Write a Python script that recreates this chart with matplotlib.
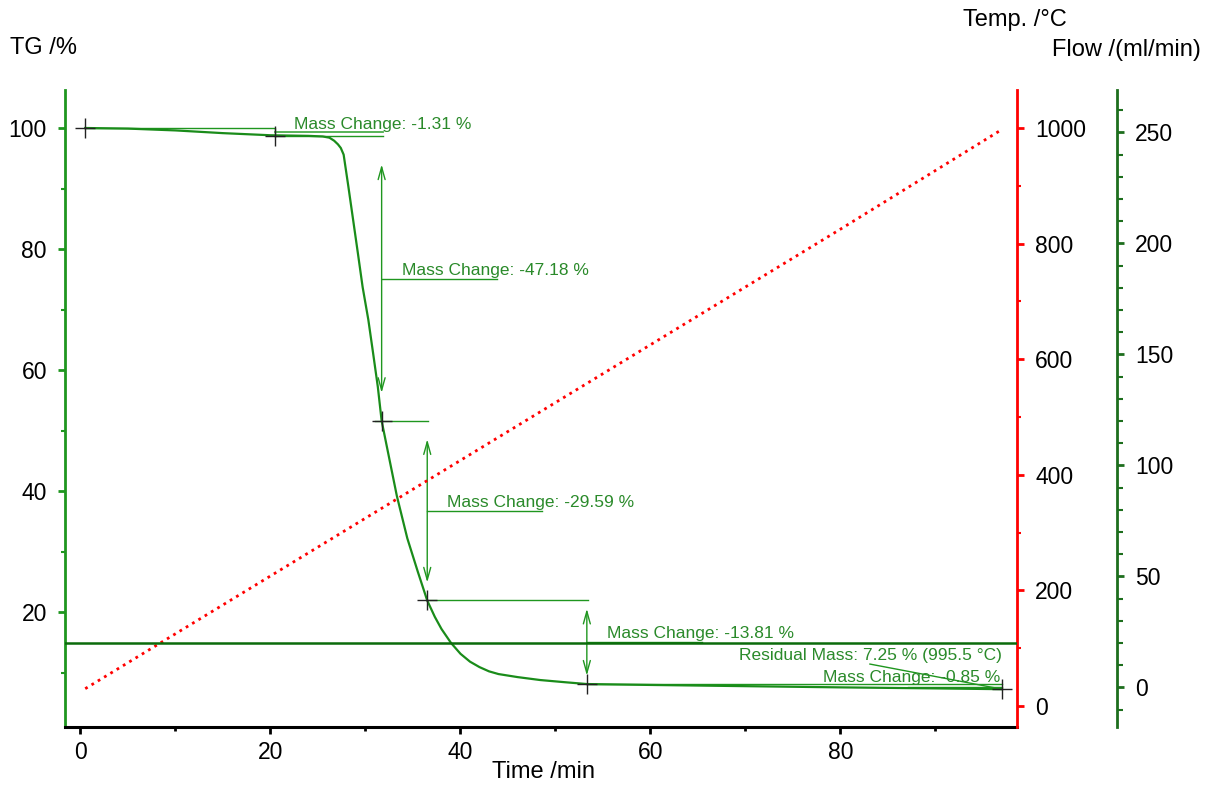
import matplotlib
matplotlib.use('Agg')
import matplotlib.pyplot as plt
from matplotlib.ticker import MultipleLocator

plt.rcParams['font.family'] = ['Liberation Sans', 'DejaVu Sans']

# TG curve, time in min and mass in %
tg_time = [0.5, 5, 10, 15, 20, 24, 25.5, 26.2, 26.7, 27.1, 27.4, 27.7, 28.2, 28.7, 29.2,
           29.7, 30.3, 30.8, 31.3, 31.7, 32.5, 33.3, 34.4, 35.5, 36.5, 37.3, 38, 39, 40,
           41, 42, 43, 44, 46, 48.4, 51, 53.3, 60, 70, 80, 90, 97]
tg_mass = [100, 99.9, 99.6, 99.15, 98.8, 98.7, 98.6, 98.4, 97.9, 97.3, 96.7, 95.6, 90.3,
           84.8, 79.3, 73.7, 68.3, 62.8, 57.2, 51.6, 45.4, 39.2, 32.2, 26.7, 21.9, 19.2,
           17.2, 14.9, 13.1, 11.8, 10.9, 10.2, 9.75, 9.25, 8.76, 8.4, 8.1, 7.95, 7.75,
           7.55, 7.38, 7.25]

# temperature programme (red dotted)
temp_time = [0.5, 20, 40, 60, 80, 96.8]
temp_value = [30, 225, 425, 625, 825, 995.5]

# purge gas flow
flow_value = 20

# evaluation points of the mass steps
step_time = [0.5, 20.5, 31.7, 36.5, 53.3, 97.0]
step_mass = [100.0, 98.69, 51.51, 21.92, 8.11, 7.26]
mass_change = [-1.31, -47.18, -29.59, -13.81, -0.85]
residual_mass = 7.25
residual_temp = 995.5

green = '#1f961f'
txt_green = '#2a8a2a'
ann_lw = 1.0

fig = plt.figure(figsize=(12.09, 7.85), dpi=100)
ax = fig.add_axes([65 / 1209, 1 - 727 / 785, 952 / 1209, 637 / 785])
ax2 = ax.twinx()
ax3 = ax.twinx()

# --- TG curve
ax.plot(tg_time, tg_mass, color='#1a8c1a', lw=1.6, zorder=3)
ax.plot(step_time, step_mass, ls='none', marker='+', ms=14, mew=1.0, color='#222222', zorder=4)

# first small step: box plus leader
ax.plot([step_time[0], step_time[1], step_time[1]], [step_mass[0], step_mass[0], step_mass[1]],
        color=green, lw=ann_lw)
mid0 = (step_mass[0] + step_mass[1]) / 2
ax.plot([step_time[1], step_time[2] + 0.1], [mid0, mid0], color='#4aae4a', lw=1.3)
ax.text(22.5, step_mass[0] - 0.1, 'Mass Change: %.2f %%' % mass_change[0], color=txt_green,
        fontsize=12.5, va='baseline', ha='left')

# big steps with double arrows
for i in [1, 2, 3]:
    a = step_mass[i]
    b = step_mass[i + 1]
    xe = step_time[i + 1]
    xs = step_time[i]
    if i == 2:
        xs = step_time[i] - 0.7
    ax.plot([xs, xe + 0.1], [a, a], color=green, lw=ann_lw)
    span = a - b
    ax.annotate('', xy=(xe, a - 0.1 * span), xytext=(xe, b + 0.1 * span),
                arrowprops=dict(arrowstyle='<->,head_length=0.9,head_width=0.25',
                                color=green, lw=ann_lw, shrinkA=0, shrinkB=0))
    mid = (a + b) / 2
    ax.plot([xe, xe + 12.1], [mid, mid], color=green, lw=ann_lw)
    ax.text(xe + 2.1, mid + 0.65, 'Mass Change: %.2f %%' % mass_change[i], color=txt_green,
            fontsize=12.5, va='baseline', ha='left')

# last small step
ax.plot([step_time[4], step_time[5]], [step_mass[4], step_mass[4]], color=green, lw=ann_lw)
mid4 = (step_mass[4] + step_mass[5]) / 2
ax.plot([87.1, step_time[5]], [mid4, mid4], color=green, lw=ann_lw)
ax.text(96.8, mid4 + 0.7, 'Mass Change: %.2f %%' % mass_change[4], color=txt_green,
        fontsize=12.5, va='baseline', ha='right')

# residual mass
ax.plot([83.1, step_time[5]], [11.4, residual_mass], color=green, lw=ann_lw)
ax.text(97.0, 12.07, 'Residual Mass: %.2f %% (%.1f °C)' % (residual_mass, residual_temp),
        color=txt_green, fontsize=12.5, va='baseline', ha='right')

# --- temperature
ax2.plot(temp_time, temp_value, color='red', ls=':', lw=2.0)

# --- flow
ax3.axhline(flow_value, color='#0b6b0b', lw=1.8)

# axis ranges
ax.set_xlim(-1.63, 98.58)
ax.set_ylim(1.0, 106.28)
ax2.set_ylim(-36.3, 1065.7)
ax3.set_ylim(-17.8, 269.1)

# spines
for s in ['top', 'right']:
    ax.spines[s].set_visible(False)
ax.spines['left'].set_color(green)
ax.spines['left'].set_linewidth(2)
ax.spines['bottom'].set_color('black')
ax.spines['bottom'].set_linewidth(2.2)

for s in ['top', 'left', 'bottom']:
    ax2.spines[s].set_visible(False)
    ax3.spines[s].set_visible(False)
ax2.spines['right'].set_color('red')
ax2.spines['right'].set_linewidth(2)
ax3.spines['right'].set_position(('axes', 1.105))
ax3.spines['right'].set_color('#1d6e1d')
ax3.spines['right'].set_linewidth(2)

# ticks
ax.xaxis.set_major_locator(MultipleLocator(20))
ax.xaxis.set_minor_locator(MultipleLocator(10))
ax.yaxis.set_major_locator(MultipleLocator(20))
ax.yaxis.set_minor_locator(MultipleLocator(10))
ax2.yaxis.set_major_locator(MultipleLocator(200))
ax2.yaxis.set_minor_locator(MultipleLocator(100))
ax3.yaxis.set_major_locator(MultipleLocator(50))
ax3.yaxis.set_minor_locator(MultipleLocator(10))

tick_fs = 16.5
ax.tick_params(axis='x', which='major', length=5, width=2, color='black', labelsize=tick_fs, pad=5)
ax.tick_params(axis='x', which='minor', length=3, width=2, color='black')
ax.tick_params(axis='y', which='major', length=5, width=2, color=green, labelsize=tick_fs, pad=8)
ax.tick_params(axis='y', which='minor', length=3, width=1.5, color=green)
ax2.tick_params(axis='y', which='major', length=5, width=2, color='red', labelsize=tick_fs, pad=8)
ax2.tick_params(axis='y', which='minor', length=3, width=1.5, color='red')
ax3.tick_params(axis='y', which='major', length=5, width=2, color='#1d6e1d', labelsize=tick_fs, pad=8)
ax3.tick_params(axis='y', which='minor', length=4, width=1.5, color='#1d6e1d')

# axis titles
fig.text(10 / 1209, 1 - 48 / 785, 'TG /%', fontsize=17, ha='left', va='center')
fig.text(963 / 1209, 1 - 20 / 785, 'Temp. /°C', fontsize=17, ha='left', va='center')
fig.text(1201 / 1209, 1 - 50 / 785, 'Flow /(ml/min)', fontsize=17, ha='right', va='center')
fig.text(543 / 1209, 1 - 772 / 785, 'Time /min', fontsize=17, ha='center', va='center')

fig.savefig('out.png', dpi=100)
